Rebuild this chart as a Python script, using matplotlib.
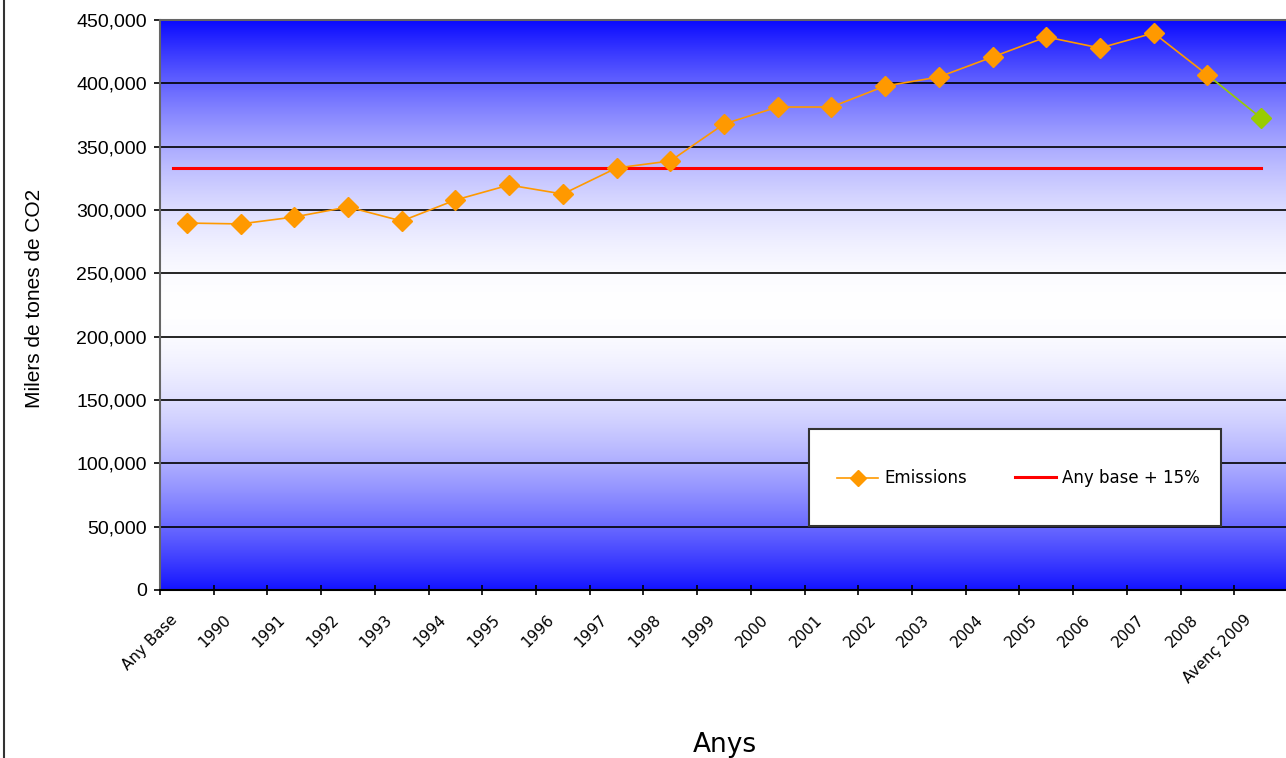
import numpy as np
import matplotlib
matplotlib.use("Agg")
import matplotlib.pyplot as plt
import matplotlib.transforms as mtransforms
from matplotlib.lines import Line2D
from matplotlib.patches import Rectangle
from matplotlib.ticker import FuncFormatter, MultipleLocator

categories = ["Any Base", "1990", "1991", "1992", "1993", "1994", "1995", "1996",
              "1997", "1998", "1999", "2000", "2001", "2002", "2003", "2004",
              "2005", "2006", "2007", "2008", "Avenç 2009"]
emissions = [289700, 289000, 294500, 302400, 291300, 307900, 319700, 312600,
             333200, 338700, 367900, 381300, 381300, 397900, 405000, 420800,
             436600, 427900, 439700, 406600, 372600]
base_plus_15 = 333200
series_names = ["Emissions", "Any base + 15%"]

W, H = 1286, 758
fig = plt.figure(figsize=(W / 100, H / 100), dpi=100)
ax = fig.add_axes([160 / W, (H - 590) / H, (1288 - 160) / W, 570 / H])

n = len(categories)
x = np.arange(n)
ax.set_xlim(-0.5, n - 0.5)
ax.set_ylim(0, 450000)

# gradient background: blue at edges, white at centre
t = np.linspace(0, 1, 600)
f = (np.abs(t - 0.5) * 2) ** 1.8
top = np.array([10, 10, 255]) / 255
bot = np.array([20, 20, 255]) / 255
cols = np.zeros((600, 1, 3))
for i, tt in enumerate(t):
    c = top if tt > 0.5 else bot
    cols[i, 0] = (1 - f[i]) * np.array([1, 1, 1]) + f[i] * c
ax.imshow(cols, extent=[-0.5, n - 0.5, 0, 450000], aspect="auto", origin="lower", zorder=0)

ax.yaxis.set_major_locator(MultipleLocator(50000))
ax.grid(axis="y", color="black", linewidth=1.2, zorder=1)

# red reference line
ax.plot([x[0] - 0.25, x[-1]], [base_plus_15, base_plus_15], color="#FF0000",
        linewidth=2.2, zorder=3)

# emissions line (last segment green)
ax.plot(x[:-1], emissions[:-1], color="#FF9900", linewidth=1.2, marker="D",
        markersize=10, markerfacecolor="#FF9900", markeredgecolor="#FF9900", zorder=4)
ax.plot(x[-2:], emissions[-2:], color="#99CC00", linewidth=1.2, zorder=3.5)
ax.plot([x[-1]], [emissions[-1]], color="#99CC00", marker="D", markersize=10,
        linestyle="none", zorder=4)

# axes styling
for s in ["left", "top"]:
    ax.spines[s].set_color("#666666")
    ax.spines[s].set_linewidth(1.5)
ax.spines["right"].set_visible(False)
ax.spines["bottom"].set_color("black")
ax.spines["bottom"].set_linewidth(1.5)

ax.yaxis.set_major_formatter(FuncFormatter(lambda v, p: "0" if v == 0 else f"{int(v):,}"))
ax.tick_params(axis="y", labelsize=14, length=4.5, width=1.2, color="black", pad=5)
for lab in ax.get_yticklabels():
    lab.set_family("Liberation Sans")

ax.set_xticks(np.arange(n + 1) - 0.5, minor=False)
ax.set_xticklabels([])
ax.set_xticks(x, minor=True)
ax.set_xticklabels(categories, minor=True, rotation=45, ha="right",
                   rotation_mode="anchor", fontsize=11, family="DejaVu Sans")
ax.tick_params(axis="x", which="major", length=7, width=1.2, direction="inout")
ax.tick_params(axis="x", which="minor", length=0, pad=16)
offset = mtransforms.ScaledTranslation(-17 / 100, 0, fig.dpi_scale_trans)
for lab in ax.xaxis.get_minorticklabels():
    lab.set_transform(lab.get_transform() + offset)

fig.text(35 / W, 1 - 298 / H, "Milers de tones de CO2", fontsize=15,
         family="Liberation Sans", rotation=90, ha="center", va="center")
fig.text(725 / W, 1 - 745 / H, "Anys", fontsize=19, family="DejaVu Sans",
         ha="center", va="center")

# legend box (drawn manually to match layout)
def fx(px):
    return px / W

def fy(py):
    return 1 - py / H

fig.add_artist(Rectangle((fx(809), fy(526)), fx(1221) - fx(809), fy(429) - fy(526),
                         transform=fig.transFigure, facecolor="white",
                         edgecolor="#333333", linewidth=1.5, zorder=10))
fig.add_artist(Line2D([fx(837), fx(878)], [fy(478), fy(478)], color="#FF9900",
                      linewidth=1.2, zorder=11))
fig.add_artist(Line2D([fx(858)], [fy(478)], color="#FF9900", marker="D",
                      markersize=8, linestyle="none", zorder=11))
fig.text(fx(884), fy(478), series_names[0], fontsize=12, family="DejaVu Sans",
         ha="left", va="center", zorder=11)
fig.add_artist(Line2D([fx(1015), fx(1056)], [fy(477), fy(477)], color="#FF0000",
                      linewidth=2.2, zorder=11))
fig.text(fx(1062), fy(478), series_names[1], fontsize=12, family="DejaVu Sans",
         ha="left", va="center", zorder=11)

# left border line of chart area
fig.add_artist(Line2D([4 / W, 4 / W], [0, 1], color="#333333", linewidth=1.5))

fig.savefig("out.png", dpi=100)
